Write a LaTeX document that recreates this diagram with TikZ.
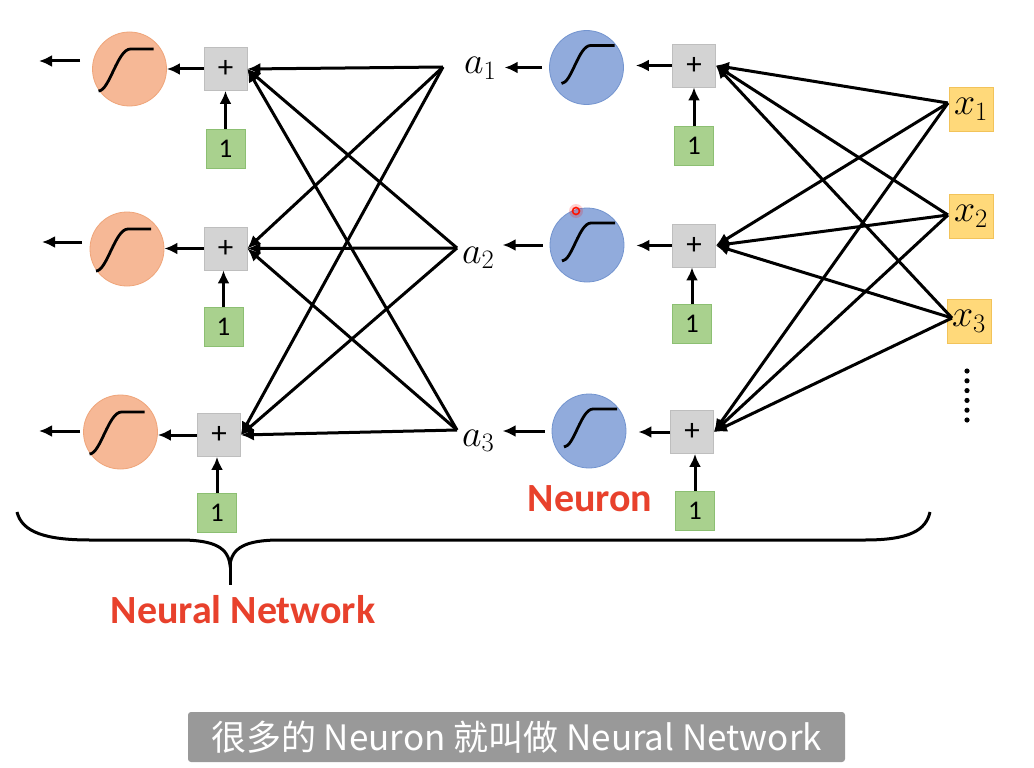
\documentclass[tikz,border=0pt]{standalone}
\usepackage{fix-cm}
\usepackage{fontspec}
\setmainfont{Carlito}
\newfontfamily\cjk{Noto Sans CJK SC}
\usetikzlibrary{arrows.meta,calc}
\definecolor{orfill}{HTML}{F6B896}
\definecolor{ordraw}{HTML}{EFA57A}
\definecolor{blfill}{HTML}{91ABDC}
\definecolor{bldraw}{HTML}{7394CF}
\definecolor{plfill}{HTML}{D3D3D3}
\definecolor{pldraw}{HTML}{BEBEBE}
\definecolor{onfill}{HTML}{A9D18E}
\definecolor{ondraw}{HTML}{8CBF72}
\definecolor{xfill}{HTML}{FFD97A}
\definecolor{xdraw}{HTML}{F2C35A}
\definecolor{nred}{HTML}{E8412C}
\definecolor{subgray}{HTML}{999999}
\tikzset{
  sigL/.pic={\draw[line width=2.8pt] (-31,22) .. controls (-20,22) and (-12,-20) .. (1,-20) -- (24,-20);},
  sigM/.pic={\draw[line width=2.8pt] (-25,16) .. controls (-15,16) and (-8,-22) .. (4,-22) -- (28,-22);}
}
\begin{document}
\begin{tikzpicture}[x=1pt,y=-1pt,
  neuronbase/.style={circle, minimum size=74pt, inner sep=0pt, line width=0.8pt},
  orneuron/.style={neuronbase, fill=orfill, draw=ordraw},
  blneuron/.style={neuronbase, fill=blfill, draw=bldraw},
  plusbox/.style={rectangle, minimum size=43pt, inner sep=0pt, fill=plfill, draw=pldraw, line width=0.8pt, font=\fontsize{31}{33}\selectfont},
  onebox/.style={rectangle, minimum size=39pt, inner sep=0pt, fill=onfill, draw=ondraw, line width=0.8pt, font=\fontsize{27}{29}\selectfont},
  xbox/.style={rectangle, minimum size=44pt, inner sep=0pt, fill=xfill, draw=xdraw, line width=0.8pt, font=\fontsize{38}{40}\selectfont},
  alabel/.style={anchor=base west, inner sep=0pt, font=\fontsize{38}{40}\selectfont},
  conn/.style={line width=3pt, -{Latex[length=13pt,width=12pt]}},
  lbl/.style={text=nred, font=\bfseries\fontsize{40}{44}\selectfont, inner sep=0pt},
]
\fill[white] (0,0) rectangle (1034,768);
\useasboundingbox (0,0) rectangle (1034,768);

% ---- left (output) layer
\node[orneuron] (L1) at (129.5,69) {};
\node[orneuron] (L2) at (127,249) {};
\node[orneuron] (L3) at (120.5,432) {};
\pic at (L1) {sigL};
\pic at (L2) {sigL};
\pic at (L3) {sigL};
\node[plusbox] (P1) at (225.5,69) {+};
\node[plusbox] (P2) at (225.5,248.5) {+};
\node[plusbox] (P3) at (219,435) {+};
\node[onebox] (B1) at (225.5,148.5) {1};
\node[onebox] (B2) at (223.5,326.5) {1};
\node[onebox] (B3) at (217,512.5) {1};
\coordinate (o1s) at (80,61);  \coordinate (o1e) at (39,61);
\coordinate (o2s) at (82,242); \coordinate (o2e) at (42,242);
\coordinate (o3s) at (80,431); \coordinate (o3e) at (39,431);
\draw[conn] (o1s) -- (o1e);
\draw[conn] (o2s) -- (o2e);
\draw[conn] (o3s) -- (o3e);
\foreach \i in {1,2,3}{
  \draw[conn] (P\i.west) -- (P\i.west -| L\i.east);
  \draw[conn] (B\i.north) -- (B\i.north |- P\i.south);
}

% ---- middle (hidden) layer
\node[alabel] (a1) at (464,74) {$a_1$};
\node[alabel] (a2) at (462,263) {$a_2$};
\node[alabel] (a3) at (462,446) {$a_3$};
\node[blneuron] (M1) at (586.5,67.5) {};
\node[blneuron] (M2) at (587,245) {};
\node[blneuron] (M3) at (589,431) {};
\pic at (M1) {sigM};
\pic at (M2) {sigM};
\pic at (M3) {sigM};
\node[plusbox] (Q1) at (694,65.5) {+};
\node[plusbox] (Q2) at (694,245.5) {+};
\node[plusbox] (Q3) at (692,432) {+};
\node[onebox] (C1) at (694,146) {1};
\node[onebox] (C2) at (692,324) {1};
\node[onebox] (C3) at (695,511) {1};
\foreach \i in {1,2,3}{
  \draw[conn, shorten <=7pt, shorten >=8pt] (M\i.west) -- (M\i.west -| a\i.east);
  \draw[conn, shorten >=12pt] (Q\i.west) -- (Q\i.west -| M\i.east);
  \draw[conn] (C\i.north) -- (C\i.north |- Q\i.south);
}
\fill[red, opacity=0.18] (576,211) circle (7);
\draw[red!85!orange, line width=1.6pt] (576,211) circle (3.5);

% ---- inputs
\node[xbox] (X1) at (971,109) {$x_1$};
\node[xbox] (X2) at (971,216) {$x_2$};
\node[xbox] (X3) at (969,321.5) {$x_3$};
\foreach \k in {0,...,5} \fill (967,371+\k*9.8) circle (2.6);

% ---- connections hidden -> output
\coordinate (s1) at (443,67);
\coordinate (s2) at (457,248);
\coordinate (s3) at (457,430);
\foreach \i in {1,2,3}{
  \foreach \j in {1,2,3}{
    \draw[conn] (s\i) -- (P\j.east);
  }
}
% ---- connections input -> hidden
\coordinate (r1) at (948,103);
\coordinate (r2) at (948,215);
\coordinate (r3) at (952,318);
\foreach \i in {1,2,3}{
  \foreach \j in {1,2,3}{
    \draw[conn] (r\i) -- (Q\j.east);
  }
}

% ---- labels and brace
\node[lbl] (neuron) at (590,499) {Neuron};
\draw[line width=3pt] (17,512) .. controls (22,532) and (45,540) .. (90,540) -- (180,540)
  .. controls (215,540) and (228,548) .. (230,565)
  .. controls (232,548) and (245,540) .. (280,540) -- (865,540)
  .. controls (910,540) and (926,530) .. (930,512);
\coordinate (bt) at (230,560);
\coordinate (bb) at (230,585);
\draw[line width=3pt] (bt) -- (bb);
\node[lbl] (nn) at (243,610) {Neural Network};

% ---- subtitle
\node[fill=subgray, rounded corners=3pt, minimum width=657pt, minimum height=50pt, inner sep=0pt, text=white,
  font=\cjk\fontsize{35}{38}\selectfont] (sub) at (516.5,737) {很多的 Neuron 就叫做 Neural Network};
\end{tikzpicture}
\end{document}
